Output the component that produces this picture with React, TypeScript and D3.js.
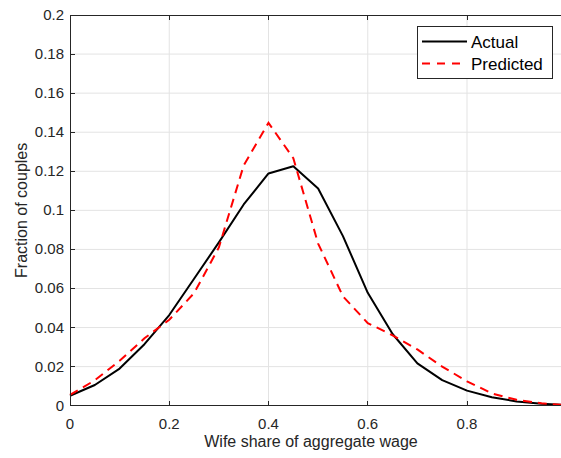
import * as d3 from "d3";
import React, { useRef, useEffect } from "react";

// wife share bins
const shares = [0, 0.05, 0.1, 0.15, 0.2, 0.25, 0.3, 0.35, 0.4, 0.45, 0.5, 0.55, 0.6, 0.65, 0.7, 0.75, 0.8, 0.85, 0.9, 0.95, 0.99];
const actual = [0.0051, 0.0106, 0.019, 0.0315, 0.0464, 0.065, 0.0836, 0.103, 0.1189, 0.1226, 0.1112, 0.0868, 0.0578, 0.0367, 0.0217, 0.0131, 0.0077, 0.0043, 0.0022, 0.001, 0.0005];
const predicted = [0.0055, 0.013, 0.023, 0.0345, 0.044, 0.0576, 0.081, 0.123, 0.1448, 0.1267, 0.083, 0.056, 0.0423, 0.036, 0.0288, 0.02, 0.0125, 0.0063, 0.003, 0.0012, 0.0005];
const xTicks = [0, 0.2, 0.4, 0.6, 0.8];
const yTicks = [0, 0.02, 0.04, 0.06, 0.08, 0.1, 0.12, 0.14, 0.16, 0.18, 0.2];

const W = 561;
const H = 458;

function Chart() {
  const ref = useRef<SVGSVGElement>(null);

  useEffect(() => {
    const svg = d3.select(ref.current);
    svg.selectAll("*").remove();

    const left = 70, right = 561.3, top = 15, bottom = 405.7;
    const x = d3.scaleLinear().domain([0, 0.99]).range([left, right]);
    const y = d3.scaleLinear().domain([0, 0.2]).range([bottom, top]);
    const font = "Arial, 'Liberation Sans', sans-serif";
    const axisColor = "#262626";

    // grid lines
    const grid = svg.append("g").attr("stroke", "#e3e3e3").attr("stroke-width", 1);
    xTicks.slice(1).forEach((t) => {
      grid.append("line").attr("x1", x(t)).attr("x2", x(t)).attr("y1", top).attr("y2", bottom);
    });
    yTicks.slice(1, -1).forEach((t) => {
      grid.append("line").attr("x1", left).attr("x2", W).attr("y1", y(t)).attr("y2", y(t));
    });

    // curves
    const line = d3
      .line<number>()
      .x((d, i) => x(shares[i]))
      .y((d) => y(d));

    svg
      .append("path")
      .datum(actual)
      .attr("fill", "none")
      .attr("stroke", "black")
      .attr("stroke-width", 2)
      .attr("stroke-linejoin", "round")
      .attr("d", line);

    svg
      .append("path")
      .datum(predicted)
      .attr("fill", "none")
      .attr("stroke", "#ff0000")
      .attr("stroke-width", 2)
      .attr("stroke-dasharray", "9,6")
      .attr("d", line);

    // axes box (left, bottom, top)
    const ax = svg.append("g").attr("stroke", axisColor).attr("stroke-width", 1).attr("shape-rendering", "crispEdges");
    ax.append("line").attr("x1", left).attr("x2", left).attr("y1", top).attr("y2", bottom);
    ax.append("line").attr("x1", left).attr("x2", W).attr("y1", bottom).attr("y2", bottom);
    ax.append("line").attr("x1", left).attr("x2", W).attr("y1", top).attr("y2", top);

    // tick marks
    xTicks.forEach((t) => {
      ax.append("line").attr("x1", x(t)).attr("x2", x(t)).attr("y1", bottom).attr("y2", bottom - 5);
      ax.append("line").attr("x1", x(t)).attr("x2", x(t)).attr("y1", top).attr("y2", top + 5);
    });
    yTicks.forEach((t) => {
      ax.append("line").attr("x1", left).attr("x2", left + 5).attr("y1", y(t)).attr("y2", y(t));
    });

    // tick labels
    svg
      .append("g")
      .selectAll("text")
      .data(xTicks)
      .enter()
      .append("text")
      .attr("x", (d) => x(d))
      .attr("y", bottom + 23)
      .attr("text-anchor", "middle")
      .attr("font-family", font)
      .attr("font-size", 15)
      .attr("fill", axisColor)
      .text((d) => String(d));

    svg
      .append("g")
      .selectAll("text")
      .data(yTicks)
      .enter()
      .append("text")
      .attr("x", left - 6)
      .attr("y", (d) => y(d) + 5)
      .attr("text-anchor", "end")
      .attr("font-family", font)
      .attr("font-size", 15)
      .attr("fill", axisColor)
      .text((d) => String(d));

    // axis labels
    svg
      .append("text")
      .attr("x", 311)
      .attr("y", 447)
      .attr("text-anchor", "middle")
      .attr("font-family", font)
      .attr("font-size", 16)
      .attr("fill", axisColor)
      .text("Wife share of aggregate wage");

    svg
      .append("text")
      .attr("transform", `translate(27, ${(top + bottom) / 2}) rotate(-90)`)
      .attr("text-anchor", "middle")
      .attr("font-family", font)
      .attr("font-size", 16)
      .attr("fill", axisColor)
      .text("Fraction of couples");

    // legend
    const lg = svg.append("g");
    lg.append("rect")
      .attr("x", 417.5)
      .attr("y", 26.5)
      .attr("width", 135)
      .attr("height", 52)
      .attr("fill", "white")
      .attr("stroke", axisColor)
      .attr("stroke-width", 1);
    const items = [
      { label: "Actual", color: "black", dash: null as string | null },
      { label: "Predicted", color: "#ff0000", dash: "8,7" },
    ];
    items.forEach((it, i) => {
      const yy = 41.5 + i * 22;
      lg.append("line")
        .attr("x1", 422)
        .attr("x2", 467)
        .attr("y1", yy)
        .attr("y2", yy)
        .attr("stroke", it.color)
        .attr("stroke-width", 2)
        .attr("stroke-dasharray", it.dash);
      lg.append("text")
        .attr("x", 471)
        .attr("y", yy + 6)
        .attr("font-family", font)
        .attr("font-size", 17)
        .attr("fill", "black")
        .text(it.label);
    });
  });

  return <svg ref={ref} width={W} height={H} style={{ position: "absolute", left: 0, top: 0, background: "white" }} />;
}

export default function App() {
  return <Chart />;
}
